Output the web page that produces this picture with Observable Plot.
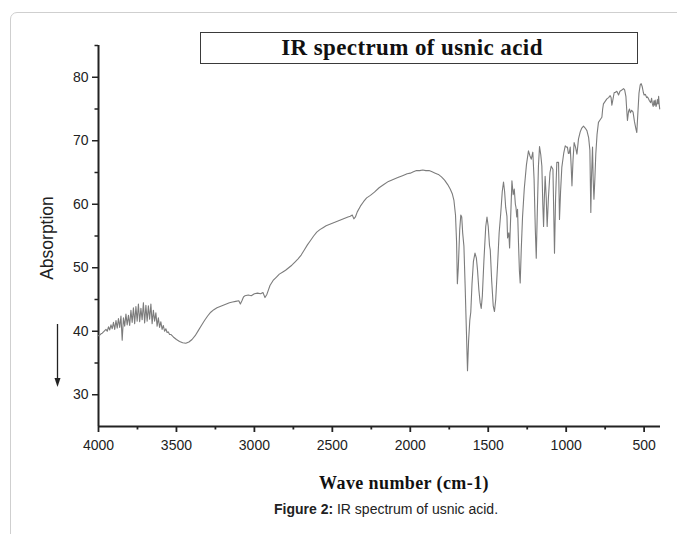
<!DOCTYPE html>
<html>
<head>
<meta charset="utf-8">
<script src="https://cdn.jsdelivr.net/npm/d3@7"></script>
<script src="https://cdn.jsdelivr.net/npm/@observablehq/plot@0.6"></script>
<style>
  html, body { margin: 0; padding: 0; background: #fff; }
  #page { position: relative; width: 677px; height: 534px; overflow: hidden; background: #fff; }
  #frame { position: absolute; left: 10px; top: 12px; width: 720px; height: 600px; border: 1px solid #cfcfcf; border-radius: 7px; }
  #chart { position: absolute; left: 0; top: 0; }
  #titlebox { position: absolute; left: 200px; top: 32px; width: 438px; height: 32px; box-sizing: border-box; border: 1.5px solid #3a3a3a; background: #fff; padding-right: 14px;
    display: flex; align-items: center; justify-content: center; font: bold 23px "Liberation Serif", "Times New Roman", serif; letter-spacing: 0.4px; color: #111; }
  #ylabel { position: absolute; left: 47px; top: 238px; transform: translate(-50%, -50%) rotate(-90deg); font: 17.5px "Liberation Sans", Arial, sans-serif; color: #222; white-space: nowrap; }
  #xlabel { position: absolute; left: 404px; top: 483px; transform: translate(-50%, -50%); font: bold 18px "Liberation Serif", "Times New Roman", serif; letter-spacing: 0.4px; color: #111; white-space: nowrap; }
  #caption { position: absolute; left: 386px; top: 509px; transform: translate(-50%, -50%); font: 14px "Liberation Sans", Arial, sans-serif; color: #222; white-space: nowrap; }
  #arrow { position: absolute; left: 50px; top: 320px; }
</style>
</head>
<body>
<div id="page">
  <div id="frame"></div>
  <div id="chart"></div>
  <div id="titlebox">IR spectrum of usnic acid</div>
  <div id="ylabel">Absorption</div>
  <svg id="arrow" width="16" height="72">
    <line x1="7.5" y1="4" x2="7.5" y2="60" stroke="#222" stroke-width="1.3"></line>
    <polygon points="4.5,58 10.5,58 7.5,67" fill="#222"></polygon>
  </svg>
  <div id="xlabel">Wave number (cm-1)</div>
  <div id="caption"><b>Figure 2:</b> IR spectrum of usnic acid.</div>
</div>
<script>
// Wavenumbers (cm-1), descending
const wavenumber = [
  4000,3992,3984,3976,3968,3960,3952,3944,3936,3928,3920,3912,3904,3896,3888,3880,3872,3864,3856,3848,
  3840,3832,3824,3816,3808,3800,3792,3784,3776,3768,3760,3752,3744,3736,3728,3720,3712,3704,3696,3688,
  3680,3672,3664,3656,3648,3640,3632,3624,3616,3608,3600,3592,3584,3576,3568,3560,3552,3544,3536,3520,
  3500,3480,3460,3440,3420,3400,3380,3360,3340,3320,3300,3280,3260,3240,3220,3200,3180,3160,3140,3120,
  3100,3090,3080,3070,3060,3040,3020,3000,2980,2960,2945,2932,2920,2900,2880,2860,2840,2820,2800,2780,
  2760,2740,2720,2700,2680,2660,2640,2620,2600,2580,2560,2540,2520,2500,2480,2460,2440,2420,2400,2385,
  2372,2362,2352,2340,2320,2300,2280,2256,2230,2200,2170,2140,2110,2080,2050,2020,2000,1980,1960,1940,
  1920,1900,1880,1860,1840,1820,1800,1780,1760,1744,1730,1720,1710,1703,1698,1692,1683,1676,1670,1664,
  1656,1648,1640,1633,1626,1618,1612,1604,1595,1585,1576,1569,1560,1552,1545,1538,1528,1516,1508,1500,
  1492,1487,1478,1468,1460,1452,1440,1430,1420,1410,1402,1395,1388,1380,1376,1368,1363,1356,1348,1340,
  1333,1326,1322,1317,1312,1306,1300,1295,1288,1280,1269,1255,1242,1232,1224,1214,1206,1198,1192,1186,
  1178,1171,1163,1156,1150,1145,1140,1135,1128,1122,1114,1104,1096,1085,1080,1075,1068,1060,1049,1043,
  1036,1028,1016,1006,998,992,986,981,974,968,963,956,949,940,931,921,910,900,889,878,
  867,856,848,844,842,838,831,827,822,816,810,802,793,782,771,766,761,750,739,728,
  718,712,707,700,692,686,675,664,655,643,632,625,617,612,607,600,594,588,580,571,
  562,552,547,541,533,525,519,512,505,500,492,484,478,472,466,458,452,447,442,437,
  433,429,424,420,415,411,407,403,400
];
// Absorption readings at each wavenumber
const absorption = [
  39.3,39.4,39.6,39.7,39.9,40.1,40.3,40.0,40.7,40.2,41.0,40.4,41.4,40.3,41.7,40.5,42.0,40.6,42.4,38.6,
  42.1,40.8,42.7,41.0,42.5,40.9,43.3,41.4,43.7,41.2,43.9,41.6,44.3,41.5,43.6,41.8,44.5,41.3,44.1,41.6,
  44.0,41.9,44.3,41.2,43.3,41.6,42.9,40.8,42.1,40.6,41.5,40.3,40.9,40.0,40.4,39.8,39.9,39.5,39.5,39.1,
  38.7,38.4,38.2,38.1,38.3,38.7,39.3,40.1,40.9,41.7,42.4,43.0,43.4,43.7,43.9,44.1,44.3,44.5,44.6,44.7,
  44.8,44.3,44.8,45.4,45.6,45.7,45.6,45.9,46.0,45.9,46.1,45.3,45.8,47.2,48.0,48.5,49.0,49.3,49.6,50.0,
  50.4,50.9,51.4,52.0,52.8,53.6,54.3,55.0,55.6,56.0,56.3,56.6,56.8,57.0,57.2,57.4,57.6,57.8,58.0,58.1,
  58.3,57.7,58.0,58.8,59.7,60.4,61.0,61.4,61.9,62.6,63.1,63.6,63.9,64.2,64.5,64.8,64.9,65.1,65.3,65.3,
  65.4,65.3,65.3,65.1,64.9,64.7,64.3,63.8,63.1,62.4,61.6,60.6,58.3,54.0,47.5,50.0,56.0,58.3,58.0,55.5,
  53.4,47.0,40.0,33.8,38.5,41.8,43.0,47.5,51.0,52.3,51.5,49.7,46.5,44.5,43.6,45.5,51.0,56.5,58.0,56.5,
  53.5,52.8,48.0,44.0,43.1,45.0,50.5,55.5,58.5,62.0,63.5,62.0,59.5,58.1,54.7,55.5,53.1,58.0,63.7,61.5,
  62.4,60.0,59.5,58.0,59.2,54.0,49.5,47.6,53.0,58.0,62.4,66.2,68.4,67.6,67.1,68.2,64.0,56.0,51.5,58.0,
  66.0,69.1,67.8,66.0,60.0,56.5,61.0,64.4,61.0,56.5,61.0,65.0,66.0,65.5,59.0,52.3,61.0,66.6,66.6,57.6,
  62.0,65.8,68.0,69.2,69.0,69.0,68.0,68.0,69.0,66.0,62.9,67.0,69.7,69.0,67.9,70.3,71.4,72.0,72.3,72.0,
  71.6,70.5,68.5,62.0,58.7,64.0,69.0,64.0,60.8,64.0,67.9,71.0,72.9,73.3,73.7,75.0,75.8,76.2,76.6,76.8,
  77.1,76.8,75.6,76.5,77.6,77.6,77.8,77.2,77.8,78.0,78.2,78.0,77.0,75.0,73.2,74.6,75.0,74.4,74.8,74.5,
  73.0,71.8,71.3,74.0,77.5,78.8,79.0,78.5,77.6,77.2,77.3,76.8,76.9,76.6,76.3,76.0,76.7,75.8,75.4,76.3,
  75.6,76.4,75.4,75.7,76.5,75.8,77.0,75.6,75.0
];
const xTicks = [4000, 3500, 3000, 2500, 2000, 1500, 1000, 500];
const xMinorTicks = [3750, 3250, 2750, 2250, 1750, 1250, 750];
const yTicks = [30, 40, 50, 60, 70, 80];
const yMinorTicks = [35, 45, 55, 65, 75, 85];

const spectrum = wavenumber.map((w, i) => ({wavenumber: w, absorption: absorption[i]}));

const chart = Plot.plot({
  width: 677,
  height: 470,
  marginTop: 45,
  marginBottom: 44,
  marginLeft: 98,
  marginRight: 17,
  x: {domain: [4000, 395]},
  y: {domain: [25, 85]},
  style: {fontFamily: "'Liberation Sans', Arial, sans-serif", fontSize: "14px", color: "#222", background: "transparent"},
  marks: [
    Plot.axisX(xTicks, {tickSize: 6, tickPadding: 8, tickFormat: "d", label: null, strokeWidth: 1.8}),
    Plot.axisX(xMinorTicks, {tickSize: 3.5, tickFormat: () => "", label: null, strokeWidth: 1.8}),
    Plot.axisY(yTicks, {tickSize: 6, tickPadding: 4, label: null, strokeWidth: 1.5}),
    Plot.axisY(yMinorTicks, {tickSize: 3.5, tickFormat: () => "", label: null, strokeWidth: 1.5}),
    Plot.ruleX([4000], {stroke: "#222", strokeWidth: 2}),
    Plot.ruleY([25], {stroke: "#222", strokeWidth: 2}),
    Plot.line(spectrum, {x: "wavenumber", y: "absorption", stroke: "#7c7c7c", strokeWidth: 1.1})
  ]
});
document.getElementById("chart").appendChild(chart);
</script>
</body>
</html>
